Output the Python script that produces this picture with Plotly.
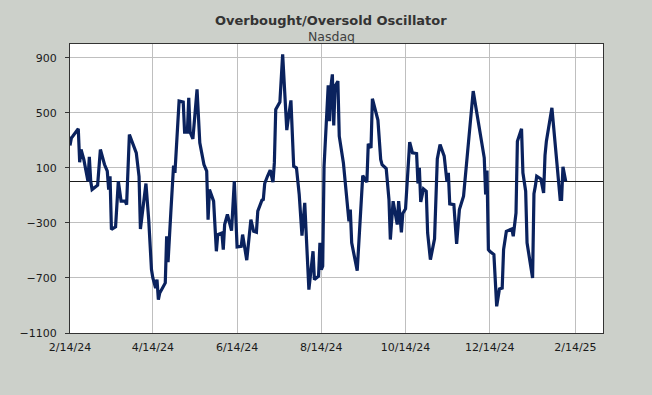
import plotly.graph_objects as go

# ---- data ----
dates = [
    "2024-02-14", "2024-02-15", "2024-02-16", "2024-02-20", "2024-02-21", "2024-02-22",
    "2024-02-24", "2024-02-26", "2024-02-27", "2024-02-28", "2024-02-29", "2024-03-01",
    "2024-03-05", "2024-03-07", "2024-03-10", "2024-03-12", "2024-03-13", "2024-03-14",
    "2024-03-15", "2024-03-18", "2024-03-20", "2024-03-22", "2024-03-25", "2024-03-26",
    "2024-03-28", "2024-04-02", "2024-04-04", "2024-04-05", "2024-04-09", "2024-04-11",
    "2024-04-13", "2024-04-14", "2024-04-16", "2024-04-17", "2024-04-18", "2024-04-19",
    "2024-04-23", "2024-04-24", "2024-04-25", "2024-04-27", "2024-04-29", "2024-04-30",
    "2024-05-02", "2024-05-03", "2024-05-06", "2024-05-07", "2024-05-09", "2024-05-10",
    "2024-05-11", "2024-05-13", "2024-05-16", "2024-05-18", "2024-05-21", "2024-05-23",
    "2024-05-24", "2024-05-25", "2024-05-28", "2024-05-30", "2024-05-31", "2024-06-03",
    "2024-06-04", "2024-06-05", "2024-06-07", "2024-06-10", "2024-06-12", "2024-06-14",
    "2024-06-17", "2024-06-18", "2024-06-21", "2024-06-24", "2024-06-26", "2024-06-28",
    "2024-06-29", "2024-07-02", "2024-07-03", "2024-07-04", "2024-07-06", "2024-07-08",
    "2024-07-10", "2024-07-11", "2024-07-12", "2024-07-15", "2024-07-17", "2024-07-20",
    "2024-07-21", "2024-07-23", "2024-07-25", "2024-07-27", "2024-07-29", "2024-07-31",
    "2024-08-02", "2024-08-03", "2024-08-05", "2024-08-08", "2024-08-09", "2024-08-12",
    "2024-08-13", "2024-08-14", "2024-08-15", "2024-08-16", "2024-08-19", "2024-08-20",
    "2024-08-21", "2024-08-22", "2024-08-23", "2024-08-24", "2024-08-26", "2024-08-27",
    "2024-08-29", "2024-08-30", "2024-09-03", "2024-09-04", "2024-09-05", "2024-09-09",
    "2024-09-13", "2024-09-16", "2024-09-17", "2024-09-19", "2024-09-20", "2024-09-23",
    "2024-09-24", "2024-09-26", "2024-09-27", "2024-09-30", "2024-10-01", "2024-10-02",
    "2024-10-03", "2024-10-05", "2024-10-08", "2024-10-09", "2024-10-11", "2024-10-12",
    "2024-10-14", "2024-10-17", "2024-10-19", "2024-10-22", "2024-10-23", "2024-10-24",
    "2024-10-25", "2024-10-27", "2024-10-29", "2024-10-30", "2024-11-01", "2024-11-04",
    "2024-11-06", "2024-11-08", "2024-11-11", "2024-11-13", "2024-11-14", "2024-11-15",
    "2024-11-18", "2024-11-20", "2024-11-22", "2024-11-25", "2024-11-28", "2024-11-30",
    "2024-12-02", "2024-12-04", "2024-12-10", "2024-12-11", "2024-12-12", "2024-12-13",
    "2024-12-14", "2024-12-17", "2024-12-19", "2024-12-21", "2024-12-23", "2024-12-24",
    "2024-12-26", "2024-12-30", "2024-12-31", "2025-01-02", "2025-01-03", "2025-01-06",
    "2025-01-07", "2025-01-09", "2025-01-10", "2025-01-14", "2025-01-15", "2025-01-16",
    "2025-01-17", "2025-01-20", "2025-01-22", "2025-01-23", "2025-01-24", "2025-01-28",
    "2025-01-31", "2025-02-03", "2025-02-04", "2025-02-05", "2025-02-07",
]

oscillator = [
    262, 318, 330, 384, 141, 233,
    161, 39, 3, 180, 3, -58,
    -26, 233, 124, 76, -58, 39,
    -348, -329, 3, -142, -142, -167,
    342, 209, 39, -344, -14, -276,
    -639, -700, -773, -712, -858, -809,
    -736, -397, -586, -227, 117, 64,
    451, 585, 578, 359, 359, 609,
    359, 311, 670, 282, 124, 76,
    -276, -58, -142, -506, -385, -373,
    -494, -312, -239, -356, 3, -474,
    -470, -385, -571, -276, -361, -368,
    -215, -135, -130, -14, 39, 83,
    -4, 136, 524, 578, 924, 374,
    451, 590, 112, 100, -94, -392,
    -155, -397, -785, -506, -712, -688,
    -445, -639, -615, 112, 699, 439,
    694, 779, 408, 694, 730, 330,
    185, 136, -288, -203, -445, -647,
    44, -4, 275, 245, 602, 476,
    447, 161, 124, 95, -62, -130,
    -421, -142, -312, -142, -368, -232,
    -198, 287, 209, 204, -14, 100,
    -147, -53, -70, -373, -567, -416,
    165, 270, 185, -2, 64, -162,
    -167, -453, -203, -106, 221, 420,
    658, 536, 173, -94, 81, -494,
    -506, -530, -906, -780, -773, -494,
    -361, -344, -397, -227, 294, 384,
    64, -70, -445, -700, -87, -33,
    39, 20, -82, 190, 294, 536,
    197, -130, -130, 107, 3,
]

x_tick_dates = ["2024-02-14", "2024-04-14", "2024-06-14", "2024-08-14",
                "2024-10-14", "2024-12-14", "2025-02-14"]
x_tick_labels = ["2/14/24", "4/14/24", "6/14/24", "8/14/24",
                 "10/14/24", "12/14/24", "2/14/25"]
y_ticks = [-1100, -700, -300, 100, 500, 900]

title_text = "Overbought/Oversold Oscillator"
subtitle_text = "Nasdaq"

# ---- figure ----
BG = "#CCD0CA"
FONT = "DejaVu Sans, Verdana, sans-serif"

fig = go.Figure()
fig.add_trace(go.Scatter(
    x=dates, y=oscillator, mode="lines",
    line=dict(color="#0A225E", width=3.2),
    hoverinfo="x+y", showlegend=False,
))

fig.update_layout(
    width=652, height=395,
    paper_bgcolor=BG, plot_bgcolor="white",
    margin=dict(l=70, r=49, t=44, b=62),
    font=dict(family=FONT, size=11, color="#1a1a1a"),
    showlegend=False,
    annotations=[
        dict(text="<b>" + title_text + "</b>", xref="paper", yref="paper",
             x=0.49, y=1.082, xanchor="center", yanchor="middle", showarrow=False,
             font=dict(family=FONT, size=13, color="#333333")),
        dict(text=subtitle_text, xref="paper", yref="paper",
             x=0.49, y=1.025, xanchor="center", yanchor="middle", showarrow=False,
             font=dict(family=FONT, size=12.5, color="#404040")),
    ],
)

fig.update_xaxes(
    type="date",
    range=["2024-02-14", "2025-03-06"],
    tickvals=x_tick_dates, ticktext=x_tick_labels,
    showgrid=True, gridcolor="#BFBFBF", gridwidth=1,
    showline=True, linecolor="#333333", linewidth=1, mirror=True,
    ticks="", ticklabelstandoff=4,
    tickfont=dict(family=FONT, size=11, color="#1a1a1a"),
    zeroline=False,
)
fig.update_yaxes(
    range=[-1100, 1000],
    tickvals=y_ticks,
    showgrid=True, gridcolor="#BFBFBF", gridwidth=1,
    showline=True, linecolor="#333333", linewidth=1, mirror=True,
    ticks="outside", ticklen=4, tickcolor="#333333",
    ticklabelstandoff=6,
    tickfont=dict(family=FONT, size=11, color="#1a1a1a"),
    zeroline=True, zerolinecolor="#1a1a1a", zerolinewidth=1,
)

fig.write_html(
    "out.html",
    config={"displayModeBar": False},
    post_script="document.body.style.margin='0';document.body.style.overflow='hidden';",
)
